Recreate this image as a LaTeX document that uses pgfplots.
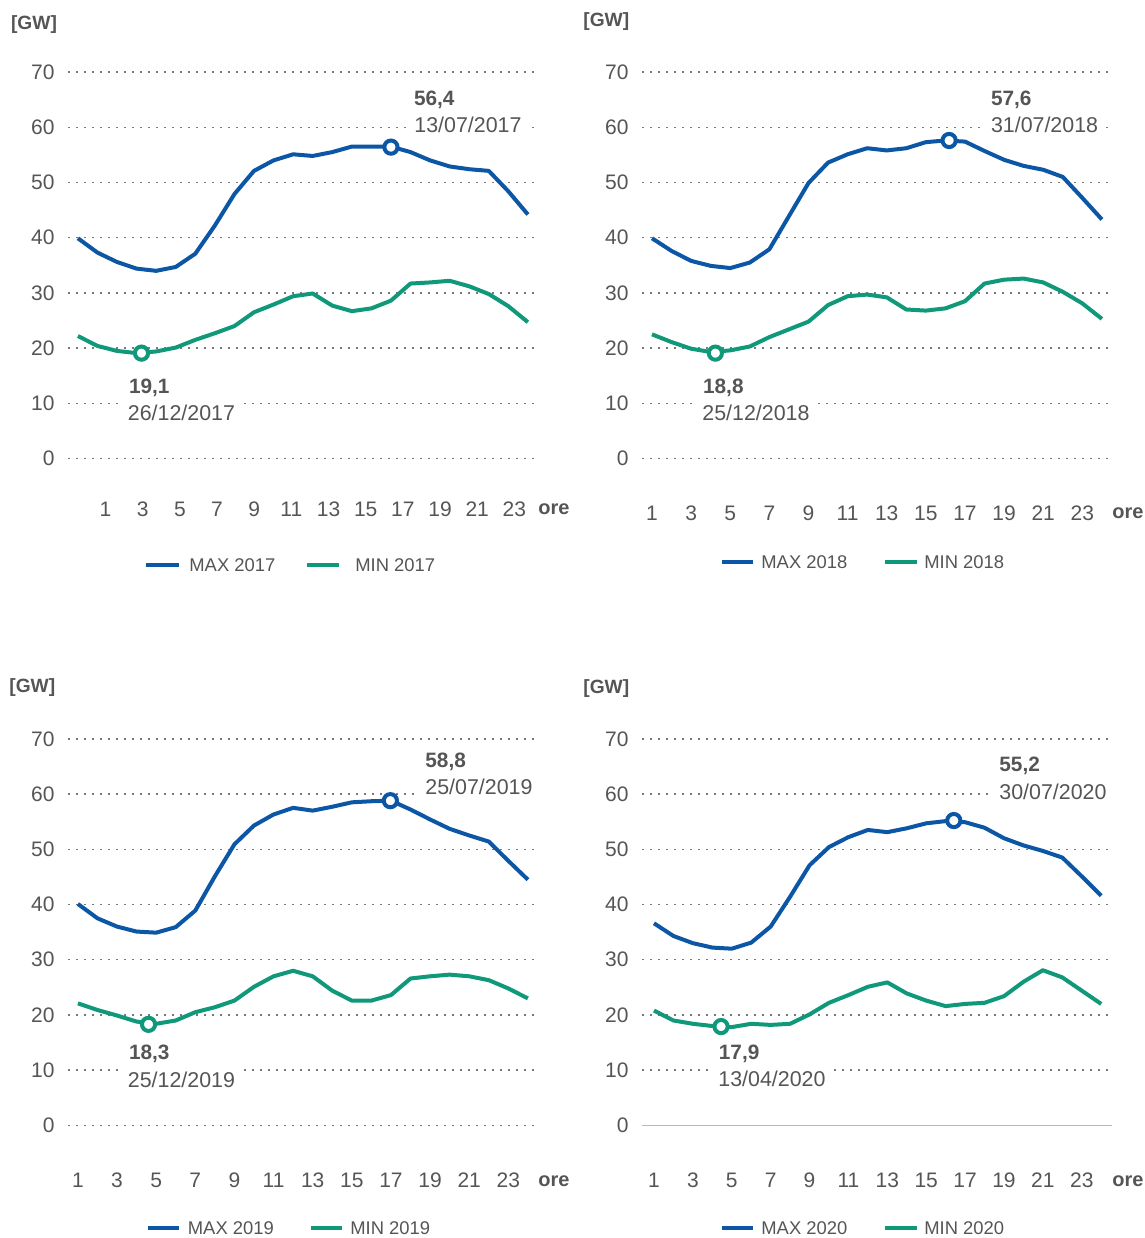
\documentclass[border=0pt]{standalone}
\usepackage{pgfplots}
\pgfplotsset{compat=1.18}
\usepackage{pgfplotstable}
\usepackage{fontspec}
\setmainfont{Liberation Sans}

\definecolor{maxblue}{RGB}{12,86,166}
\definecolor{mingreen}{RGB}{16,152,122}
\definecolor{txtgray}{RGB}{85,85,85}
\definecolor{gridgray}{RGB}{120,120,120}

% hour, max, min
\pgfplotstableread{
h max min
1 39.9 22.2
2 37.3 20.4
3 35.6 19.5
4 34.4 19.1
5 34.0 19.4
6 34.7 20.1
7 37.1 21.5
8 42.2 22.7
9 47.9 24.0
10 52.1 26.5
11 54.0 27.9
12 55.1 29.4
13 54.8 29.9
14 55.5 27.7
15 56.5 26.7
16 56.5 27.2
17 56.5 28.6
18 55.5 31.7
19 54.0 31.9
20 52.9 32.2
21 52.4 31.2
22 52.1 29.8
23 48.4 27.6
24 44.2 24.7
}\dataA

\pgfplotstableread{
h max min
1 39.9 22.5
2 37.6 21.1
3 35.8 19.9
4 34.9 19.3
5 34.5 19.6
6 35.5 20.3
7 37.9 22.0
8 43.9 23.4
9 49.9 24.8
10 53.6 27.8
11 55.1 29.4
12 56.2 29.7
13 55.8 29.2
14 56.2 27.0
15 57.3 26.8
16 57.6 27.2
17 57.4 28.5
18 55.7 31.7
19 54.1 32.4
20 53.0 32.6
21 52.3 31.9
22 51.0 30.2
23 47.2 28.1
24 43.3 25.3
}\dataB

\pgfplotstableread{
h max min
1 40.1 22.1
2 37.5 20.9
3 36.0 19.9
4 35.1 18.8
5 34.9 18.4
6 35.9 19.0
7 38.9 20.5
8 45.1 21.4
9 50.9 22.6
10 54.3 25.1
11 56.3 27.0
12 57.5 28.0
13 57.0 27.0
14 57.7 24.4
15 58.5 22.6
16 58.7 22.6
17 58.8 23.6
18 57.2 26.6
19 55.4 27.0
20 53.7 27.3
21 52.5 27.0
22 51.4 26.3
23 47.9 24.8
24 44.5 23.0
}\dataC

\pgfplotstableread{
h max min
1 36.6 20.8
2 34.3 19.0
3 33.0 18.4
4 32.2 18.0
5 32.0 17.8
6 33.1 18.4
7 36.0 18.2
8 41.4 18.4
9 47.1 20.1
10 50.4 22.2
11 52.2 23.6
12 53.5 25.1
13 53.1 25.9
14 53.8 23.9
15 54.7 22.6
16 55.1 21.6
17 54.9 22.0
18 53.9 22.2
19 52.0 23.4
20 50.7 26.0
21 49.7 28.1
22 48.5 26.8
23 45.1 24.4
24 41.6 22.0
}\dataD

\pgfplotsset{
  panel/.style={
    scale only axis, width=234.75pt, height=193.3pt,
    anchor=south west,
    ymin=0, ymax=70, ytick={0,10,...,70},
    axis line style={draw=none},
    tick style={draw=none},
    ymajorgrids,
    major grid style={gridgray, line width=0.7pt, dash pattern=on 0.8pt off 3.2pt},
    tick label style={font=\fontsize{10.5}{12}\selectfont, text=txtgray},
    /pgf/number format/assume math mode=true,
    yticklabel style={anchor=east, inner sep=0pt, xshift=-6.5pt},
    xticklabel style={anchor=center, inner sep=0pt, yshift=-27.5pt},
    clip=false,
  },
  maxline/.style={maxblue, line width=2pt, line join=round},
  minline/.style={mingreen, line width=2pt, line join=round},
  peakmax/.style={only marks, mark=*, mark size=3.3pt, line width=2pt,
    mark options={solid, fill=white, draw=maxblue, line width=2pt}},
  peakmin/.style={only marks, mark=*, mark size=3.3pt, line width=2pt,
    mark options={solid, fill=white, draw=mingreen, line width=2pt}},
}

\begin{document}
\begin{tikzpicture}
\path[use as bounding box] (0,0) rectangle (572.5pt,-619pt);

% 2017
\begin{axis}[panel, at={(34pt,-229.3pt)},
  xmin=0.494, xmax=24.49,
  xtick={2.41,4.31,6.21,8.11,10.01,11.91,13.81,15.71,17.61,19.51,21.41,23.31},
  xticklabels={1,3,5,7,9,11,13,15,17,19,21,23},
  xticklabel style={yshift=2pt}]
\addplot[maxline] table[x=h, y=max] {\dataA};
\addplot[minline] table[x=h, y=min] {\dataA};
\addplot[peakmax] coordinates {(17.0,56.4)};
\addplot[peakmin] coordinates {(4.25,19.1)};
\end{axis}

% 2018
\begin{axis}[panel, at={(321pt,-229.3pt)},
  xmin=0.489, xmax=24.49, xtick={1,3,...,23}, xticklabel style={yshift=0.3pt}]
\addplot[maxline] table[x=h, y=max] {\dataB};
\addplot[minline] table[x=h, y=min] {\dataB};
\addplot[peakmax] coordinates {(16.19,57.6)};
\addplot[peakmin] coordinates {(4.24,19.1)};
\end{axis}

% 2019
\begin{axis}[panel, at={(34pt,-562.7pt)},
  xmin=0.494, xmax=24.49, xtick={1,3,...,23}]
\addplot[maxline] table[x=h, y=max] {\dataC};
\addplot[minline] table[x=h, y=min] {\dataC};
\addplot[peakmax] coordinates {(16.97,58.8)};
\addplot[peakmin] coordinates {(4.61,18.3)};
\end{axis}

% 2020
\begin{axis}[panel, at={(321pt,-562.7pt)},
  xmin=0.384, xmax=24.53, xtick={1,3,...,23},
  ytick={10,20,...,70}, extra y ticks={0},
  extra y tick style={major grid style={solid, gray!55, line width=0.7pt}}]
\addplot[maxline] table[x=h, y=max] {\dataD};
\addplot[minline] table[x=h, y=min] {\dataD};
\addplot[peakmax] coordinates {(16.42,55.2)};
\addplot[peakmin] coordinates {(4.45,17.9)};
\end{axis}

\begin{scope}[x=0.5pt, y=-0.5pt, every node/.style={inner sep=0pt, anchor=west, text=txtgray}]
  % unit labels
  \foreach \px/\py in {10.7/25, 583/22, 9/688, 583/689}
    \node[font=\fontsize{9.6}{11}\selectfont\bfseries] at (\px,\py) {[GW]};
  \foreach \px/\py in {538/509.6, 1112/513, 538/1181, 1112/1181}
    \node[font=\fontsize{10}{12}\selectfont\bfseries] at (\px,\py) {ore};

  % dates (white box interrupts the grid)
  \tikzset{datelab/.style={font=\fontsize{10.7}{12}\selectfont, fill=white, inner xsep=4pt, inner ysep=2.5pt}}
  \node[datelab] at (406,124.5) {13/07/2017};
  \node[datelab] at (119.5,413) {26/12/2017};
  \node[datelab] at (982.6,124.5) {31/07/2018};
  \node[datelab] at (694,413) {25/12/2018};
  \node[datelab] at (417,786.7) {25/07/2019};
  \node[datelab] at (119.5,1079.4) {25/12/2019};
  \node[datelab] at (991,791.4) {30/07/2020};
  \node[datelab] at (710,1079) {13/04/2020};

  % peak values
  \tikzset{vallab/.style={font=\fontsize{10.4}{12}\selectfont\bfseries}}
  \node[vallab] at (413.6,99.6) {56,4};
  \node[vallab] at (128.6,387.7) {19,1};
  \node[vallab] at (990.6,99.6) {57,6};
  \node[vallab] at (702.7,387.7) {18,8};
  \node[vallab] at (425,761.7) {58,8};
  \node[vallab] at (128.6,1054) {18,3};
  \node[vallab] at (999,766) {55,2};
  \node[vallab] at (718.5,1054) {17,9};

  % legends
  \tikzset{leglab/.style={font=\fontsize{9.2}{11}\selectfont}}
  \draw[maxblue, line width=2pt] (146,565) -- (179,565);
  \node[leglab] at (189,565) {MAX 2017};
  \draw[mingreen, line width=2pt] (307,565) -- (339,565);
  \node[leglab] at (355,565) {MIN 2017};

  \draw[maxblue, line width=2pt] (722,562) -- (753,562);
  \node[leglab] at (761,562) {MAX 2018};
  \draw[mingreen, line width=2pt] (885,562) -- (917,562);
  \node[leglab] at (924,562) {MIN 2018};

  \draw[maxblue, line width=2pt] (147.5,1228) -- (178.6,1228);
  \node[leglab] at (187.5,1228) {MAX 2019};
  \draw[mingreen, line width=2pt] (311,1228) -- (342,1228);
  \node[leglab] at (350,1228) {MIN 2019};

  \draw[maxblue, line width=2pt] (722,1228) -- (753,1228);
  \node[leglab] at (761,1228) {MAX 2020};
  \draw[mingreen, line width=2pt] (885,1228) -- (917,1228);
  \node[leglab] at (924,1228) {MIN 2020};
\end{scope}
\end{tikzpicture}
\end{document}
